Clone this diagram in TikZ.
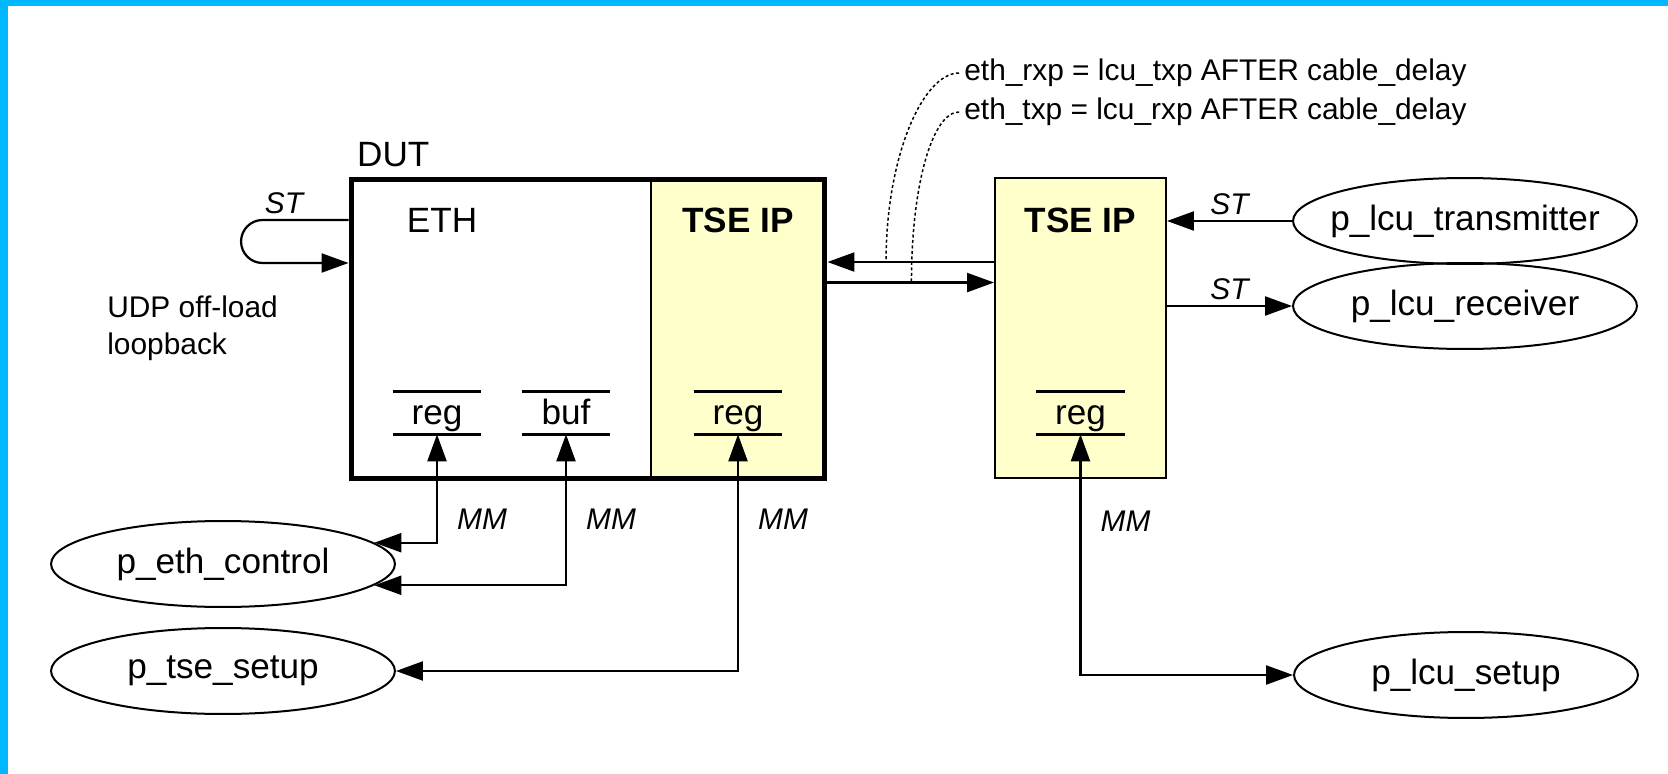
\documentclass[tikz,border=0pt]{standalone}
\usepackage{fontspec}
\setmainfont{Liberation Sans}
\usetikzlibrary{arrows.meta,positioning,shapes.geometric,calc}
\definecolor{frameblue}{RGB}{0,184,255}
\definecolor{ipyellow}{RGB}{255,255,204}
\newcommand{\ptext}[1]{\makebox[0pt]{#1}}

\begin{document}
\begin{tikzpicture}[
  x=0.02cm, y=-0.02cm,
  font=\fontsize{20}{24}\selectfont,
  lbl/.style={font=\fontsize{17}{21}\selectfont, inner sep=0.1cm},
  tag/.style={lbl, font=\fontsize{17}{21}\selectfont\itshape},
  proc/.style={draw, ellipse, line width=0.04cm, minimum width=6.88cm,
    minimum height=1.72cm, inner sep=0pt},
  ipbox/.style={draw, fill=ipyellow, line width=0.04cm, minimum width=3.48cm,
    minimum height=6cm, inner sep=0pt},
  regbar/.style={minimum width=1.76cm, minimum height=0.84cm, inner sep=0pt,
    text height=0.56cm, text depth=0.1cm},
  bar/.style={line width=0.06cm},
  arr/.style={line width=0.045cm, -{Triangle[length=0.54cm,width=0.38cm]}},
  dbl/.style={line width=0.045cm,
    {Triangle[length=0.54cm,width=0.38cm]}-{Triangle[length=0.54cm,width=0.38cm]}},
  note/.style={line width=0.03cm, dash pattern=on 0.06cm off 0.05cm},
]
\useasboundingbox (0,0) rectangle (1668,774);
\fill[frameblue] (0,0) rectangle (1668,6);
\fill[frameblue] (0,0) rectangle (8,774);

% boxes
\node[ipbox] (tse1) at (738,329) {};
\node[draw, line width=0.1cm, minimum width=9.48cm, minimum height=6cm] (dut) at (588,329) {};
\node[ipbox, minimum width=3.42cm] (tse2) at (1080.5,328) {};

\node[anchor=west] (dutlbl) at (351,155) {DUT};
\node (eth) at (442,220) {ETH};
\node[font=\fontsize{20}{24}\selectfont\bfseries] (tsehd1) at (tse1.center |- eth) {TSE IP};
\node[font=\fontsize{20}{24}\selectfont\bfseries] (tsehd2) at (tse2.center |- eth) {TSE IP};

% registers and buffer
\node[regbar] (reg1) at (437,413) {reg};
\node[regbar] (buf) at (566,413) {buf};
\node[regbar] (reg2) at (tse1.center |- reg1) {reg};
\node[regbar] (reg3) at (tse2.center |- reg1) {reg};
\draw[bar] (reg1.north west) -- (reg1.north east) (reg1.south west) -- (reg1.south east);
\draw[bar] (buf.north west) -- (buf.north east) (buf.south west) -- (buf.south east);
\draw[bar] (reg2.north west) -- (reg2.north east) (reg2.south west) -- (reg2.south east);
\draw[bar] (reg3.north west) -- (reg3.north east) (reg3.south west) -- (reg3.south east);

% processes
\node[proc] (ctrl) at (223,564) {\ptext{p\_eth\_control}};
\node[proc] (tsesetup) at (223,671) {\ptext{p\_tse\_setup}};
\node[proc] (lcutx) at (1465,221) {\ptext{p\_lcu\_transmitter}};
\node[proc] (lcurx) at (1465,306) {\ptext{p\_lcu\_receiver}};
\node[proc] (lcusetup) at (1466,675) {\ptext{p\_lcu\_setup}};

% loopback
\draw[arr] (dut.west |- eth) -- node[tag, above, pos=0.75] {ST} ++(-86,0)
  arc[start angle=90, end angle=270, radius=0.43cm] -- ($(dut.west |- eth)+(0,43)$);
\node[lbl, align=left, anchor=west] (udp) at (102,328) {UDP off-load\\loopback};

% cable
\draw[arr] ($(tse2.north west)+(0,85)$) coordinate (rxp) -- (rxp -| dut.east);
\draw[arr] ($(dut.north east)+(0,106)$) coordinate (txp) -- (txp -| tse2.west);

\node[lbl, anchor=west] (note1) at (959,73) {eth\_rxp = lcu\_txp AFTER cable\_delay};
\node[lbl, anchor=west] (note2) at (959,112) {eth\_txp = lcu\_rxp AFTER cable\_delay};
\draw[note] (note1.west) .. controls +(-36,0) and +(0,-106) .. ($(rxp)+(-108,0)$);
\draw[note] (note2.west) .. controls +(-26,0) and +(0,-100) .. ($(txp)+(84,0)$);

% streaming
\draw[arr] (lcutx.west) -- node[tag, above] {ST} (lcutx.west -| tse2.east);
\draw[arr] (tse2.east |- lcurx) -- node[tag, above] {ST} (lcurx.west);

% memory mapped
\draw[dbl] (reg1.south) |- node[tag, right=0.28cm, pos=0.39] {MM} (ctrl.8);
\draw[dbl] (buf.south) |- node[tag, right=0.28cm, pos=0.28] {MM} (ctrl.352);
\draw[dbl] (reg2.south) |- node[tag, right=0.28cm, pos=0.18] {MM} (tsesetup.east);
\draw[dbl] (reg3.south) |- node[tag, right=0.28cm, pos=0.18] {MM} (lcusetup.west);
\end{tikzpicture}
\end{document}
